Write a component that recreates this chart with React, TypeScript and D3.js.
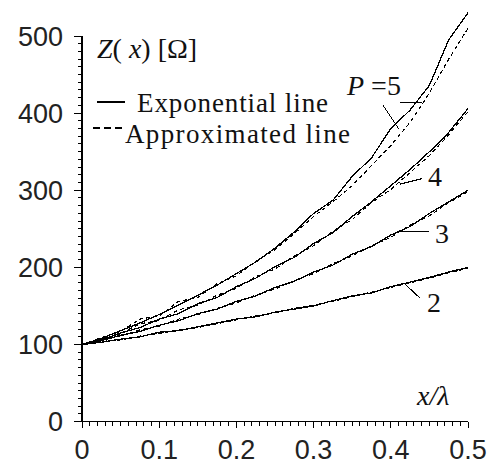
import * as d3 from "d3";

// x / lambda grid, step 0.025
const xs = [0, 0.025, 0.05, 0.075, 0.1, 0.125, 0.15, 0.175, 0.2, 0.225, 0.25, 0.275, 0.3, 0.325, 0.35, 0.375, 0.4, 0.425, 0.45, 0.475, 0.5];

// exponential line (solid), Z in ohm
const expP2 = [100, 103, 107, 110, 116, 118, 123, 128, 133, 136, 142, 146, 150, 157, 163, 167, 175, 181, 187, 194, 200];
const expP3 = [100, 105, 112, 117, 125, 131, 140, 146, 156, 163, 174, 182, 194, 203, 217, 227, 242, 253, 270, 285, 300];
const expP4 = [100, 106, 115, 122, 133, 140, 153, 161, 175, 186, 201, 213, 231, 245, 266, 285, 306, 327, 350, 375, 406];
const expP5 = [100, 108, 118, 128, 139, 151, 164, 177, 192, 207, 225, 246, 270, 287, 318, 342, 380, 404, 436, 495, 530];

// approximated line (dashed)
const apxP2 = [100, 104, 106, 111, 114, 119, 122, 127, 132, 137, 141, 147, 151, 156, 162, 168, 174, 180, 186, 193, 199];
const apxP3 = [100, 106, 111, 119, 124, 133, 139, 147, 154, 164, 172, 183, 192, 205, 215, 228, 239, 255, 267, 284, 298];
const apxP4 = [100, 107, 114, 127, 131, 145, 151, 164, 173, 188, 198, 215, 228, 247, 262, 284, 301, 323, 345, 372, 402];
const apxP5 = [100, 109, 117, 133, 137, 156, 161, 179, 189, 208, 223, 244, 266, 285, 306, 332, 358, 388, 426, 470, 510];

const yTicks = [0, 100, 200, 300, 400, 500];
const xTicks = [0, 0.1, 0.2, 0.3, 0.4, 0.5];

const width = 491;
const height = 464;

const x = d3.scaleLinear().domain([0, 0.5]).range([82, 468]);
const y = d3.scaleLinear().domain([0, 500]).range([421.7, 36]);

const sans = "'Liberation Sans', Arial, sans-serif";
const serif = "'Liberation Serif', 'Times New Roman', serif";

export default function App() {
  const line = d3
    .line<number>()
    .x((_, i) => x(xs[i]))
    .y((d) => y(d));

  const solids = [expP2, expP3, expP4, expP5];
  const dashes = [apxP2, apxP3, apxP4, apxP5];

  const xMinor = d3.range(0, 51).map((i) => i / 100);
  const yMinor = d3.range(0, 51).map((i) => i * 10);

  return (
    <svg
      width={width}
      height={height}
      style={{ position: "absolute", left: 0, top: 0, background: "#fff" }}
    >
      <rect width={width} height={height} fill="#fff" />

      {/* axes */}
      <g shapeRendering="crispEdges" stroke="#000">
        <line x1={x(0)} x2={x(0)} y1={y(0)} y2={y(500)} strokeWidth={1.5} />
        <line x1={x(0)} x2={x(0.5)} y1={y(0)} y2={y(0)} strokeWidth={1.5} />
        {xMinor.map((t, i) => (
          <line key={"xm" + i} x1={x(t)} x2={x(t)} y1={y(0)} y2={y(0) + (i % 10 === 0 ? 6 : 4)} />
        ))}
        {yMinor.map((t, i) => (
          <line key={"ym" + i} x1={x(0)} x2={x(0) - (i % 10 === 0 ? 8 : 4)} y1={y(t)} y2={y(t)} />
        ))}
      </g>
      {yTicks.map((t) => (
        <text key={"yt" + t} x={63} y={y(t)} dy="0.36em" textAnchor="end" fontSize={27} fontFamily={sans} fill="#222">
          {t}
        </text>
      ))}
      {xTicks.map((t) => (
        <text key={"xt" + t} x={x(t)} y={459} textAnchor="middle" fontSize={27} fontFamily={sans} fill="#222">
          {t === 0 ? "0" : String(t)}
        </text>
      ))}

      {/* curves */}
      <g shapeRendering="crispEdges" fill="none" stroke="#000">
        {solids.map((s, i) => (
          <path key={"s" + i} d={line(s) ?? ""} strokeWidth={1.3} />
        ))}
        {dashes.map((s, i) => (
          <path key={"d" + i} d={line(s) ?? ""} strokeWidth={1.1} strokeDasharray="4,3" />
        ))}
      </g>

      {/* axis titles */}
      <text x={97} y={58} fontSize={28} fontFamily={serif} fill="#111">
        <tspan fontStyle="italic">Z</tspan>
        <tspan>( </tspan>
        <tspan fontStyle="italic">x</tspan>
        <tspan>) [Ω]</tspan>
      </text>
      <text x={417} y={405} fontSize={28} fontFamily={serif} fontStyle="italic" fill="#111">
        x/λ
      </text>

      {/* legend */}
      <line x1={97} x2={125} y1={102} y2={102} stroke="#000" strokeWidth={1.3} shapeRendering="crispEdges" />
      <text x={137} y={112} fontSize={27} fontFamily={serif} textLength={191} lengthAdjust="spacing" fill="#111">
        Exponential line
      </text>
      <line x1={93} x2={123} y1={128} y2={128} stroke="#000" strokeWidth={1.2} strokeDasharray="7,4" shapeRendering="crispEdges" />
      <text x={125} y={143} fontSize={27} fontFamily={serif} textLength={225} lengthAdjust="spacing" fill="#111">
        Approximated line
      </text>

      {/* P labels */}
      <text x={347} y={95} fontSize={28} fontFamily={serif} fill="#111">
        <tspan fontStyle="italic">P</tspan>
        <tspan> =5</tspan>
      </text>
      <g stroke="#000" shapeRendering="crispEdges">
        <line x1={x(0.412)} x2={x(0.44)} y1={y(414)} y2={y(414)} />
        <line x1={x(0.39)} x2={x(0.41)} y1={y(410)} y2={y(380)} />
        <line x1={x(0.412)} x2={x(0.44)} y1={y(308)} y2={y(315)} />
        <line x1={x(0.412)} x2={x(0.45)} y1={y(247)} y2={y(247)} />
        <line x1={x(0.42)} x2={x(0.438)} y1={y(177)} y2={y(160)} />
      </g>
      <text x={428} y={186} fontSize={28} fontFamily={serif} fill="#111">4</text>
      <text x={435} y={243} fontSize={28} fontFamily={serif} fill="#111">3</text>
      <text x={427} y={312} fontSize={28} fontFamily={serif} fill="#111">2</text>
    </svg>
  );
}
